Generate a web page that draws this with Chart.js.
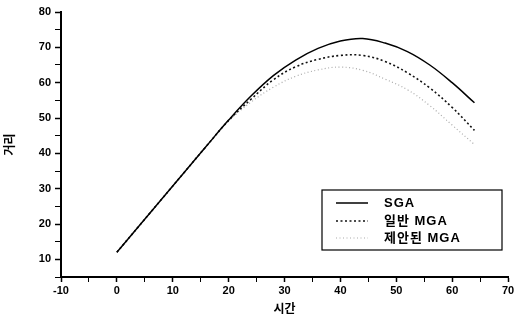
<!DOCTYPE html>
<html>
<head>
<meta charset="utf-8">
<script src="https://cdn.jsdelivr.net/npm/chart.js@4/dist/chart.umd.min.js"></script>
<style>
  html, body { margin: 0; padding: 0; background: #fff; }
  #wrap { width: 514px; height: 320px; overflow: hidden; }
</style>
</head>
<body>
<div id="wrap"><canvas id="chart1" width="514" height="320"></canvas></div>
<script>
// time steps (x) and distance values (y)
var timeSteps = [0, 4, 8, 12, 16, 20, 24, 28, 32, 36, 40, 44, 48, 52, 56, 60, 64];
var sgaValues = [12, 19.5, 27, 34.5, 42, 49.4, 56.2, 62, 66.4, 69.7, 71.8, 72.5, 71.2, 68.8, 65, 60, 54.3];
var mgaValues = [12, 19.5, 27, 34.5, 42, 49.3, 55.3, 60.8, 64.5, 66.6, 67.7, 67.7, 66, 62.8, 58.5, 53, 46.5];
var proposedValues = [12, 19.5, 27, 34.5, 42, 49.1, 54.5, 58.7, 61.8, 63.6, 64.4, 63.5, 61, 58, 53.5, 48, 42.5];

var seriesNames = ['SGA', '일반 MGA', '제안된 MGA'];
var xTitle = '시간';
var yTitle = '거리';

function toPoints(values) {
  return values.map(function(v, i) {
    return {x: timeSteps[i], y: v};
  });
}

// legend drawn as a boxed panel inside the plot area
var boxLegend = {
  id: 'boxLegend',
  afterDraw: function(chart) {
    var ctx = chart.ctx;
    var area = chart.chartArea;
    var right = area.right - 6;
    var bottom = area.bottom - 27;
    var w = 180, h = 60;
    var left = right - w, top = bottom - h;
    ctx.save();
    ctx.strokeStyle = '#000';
    ctx.lineWidth = 1.2;
    ctx.strokeRect(left, top, w, h);
    ctx.font = 'bold 13px "Liberation Sans", "Noto Sans CJK KR", sans-serif';
    ctx.letterSpacing = '1px';
    ctx.textBaseline = 'middle';
    ctx.fillStyle = '#000';
    var rows = [13, 31, 48];
    chart.data.datasets.forEach(function(ds, i) {
      var y = top + rows[i];
      ctx.beginPath();
      ctx.setLineDash(ds.borderDash || []);
      ctx.strokeStyle = ds.borderColor;
      ctx.lineWidth = ds.borderWidth;
      ctx.moveTo(left + 14, y);
      ctx.lineTo(left + 46, y);
      ctx.stroke();
      ctx.setLineDash([]);
      ctx.fillText(ds.label, left + 62, y);
    });
    ctx.restore();
  }
};

function tickLabel(value) {
  return value % 10 === 0 ? value : '';
}

new Chart('chart1', {
  type: 'line',
  data: {
    datasets: [{
      label: seriesNames[0],
      data: toPoints(sgaValues),
      borderColor: '#000',
      borderWidth: 1.5
    }, {
      label: seriesNames[1],
      data: toPoints(mgaValues),
      borderColor: '#111',
      borderWidth: 1.6,
      borderDash: [2, 2.5]
    }, {
      label: seriesNames[2],
      data: toPoints(proposedValues),
      borderColor: '#aaa',
      borderWidth: 1.2,
      borderDash: [1, 2.5]
    }]
  },
  options: {
    responsive: false,
    animation: false,
    devicePixelRatio: 1,
    layout: {padding: {left: 0, right: 6, top: 12, bottom: 0}},
    elements: {
      point: {radius: 0},
      line: {tension: 0.4, fill: false}
    },
    plugins: {
      legend: {display: false},
      tooltip: {enabled: false}
    },
    scales: {
      x: {
        type: 'linear',
        min: -10,
        max: 70,
        ticks: {
          stepSize: 5,
          callback: tickLabel,
          color: '#000',
          padding: 2,
          maxRotation: 0,
          font: {family: '"Liberation Sans", sans-serif', size: 11, weight: 'bold'}
        },
        grid: {
          drawOnChartArea: false,
          drawTicks: true,
          tickLength: 5,
          tickColor: '#000',
          tickWidth: function(c) { return c.tick && c.tick.value % 10 === 0 ? 1.5 : 1; }
        },
        border: {color: '#000', width: 2},
        title: {
          display: true,
          text: xTitle,
          color: '#000',
          padding: {top: 0, bottom: 4},
          font: {family: '"Noto Sans CJK KR", sans-serif', size: 12, weight: 'bold'}
        },
        afterFit: function(scale) {
          scale.height = 43;
          scale.paddingLeft = 0;
          scale.paddingRight = 0;
        }
      },
      y: {
        type: 'linear',
        min: 5,
        max: 80,
        ticks: {
          stepSize: 5,
          callback: tickLabel,
          color: '#000',
          padding: 4,
          font: {family: '"Liberation Sans", sans-serif', size: 11, weight: 'bold'}
        },
        grid: {
          drawOnChartArea: false,
          drawTicks: true,
          tickLength: 6,
          tickColor: '#000',
          tickWidth: function(c) { return c.tick && c.tick.value % 10 === 0 ? 1.5 : 1; }
        },
        border: {color: '#000', width: 2},
        title: {
          display: true,
          text: yTitle,
          color: '#000',
          padding: {top: 2, bottom: 0},
          font: {family: '"Noto Sans CJK KR", sans-serif', size: 12, weight: 'bold'}
        },
        afterFit: function(scale) {
          scale.width = 61;
          scale.paddingTop = 0;
          scale.paddingBottom = 0;
        }
      }
    }
  },
  plugins: [boxLegend]
});
</script>
</body>
</html>
